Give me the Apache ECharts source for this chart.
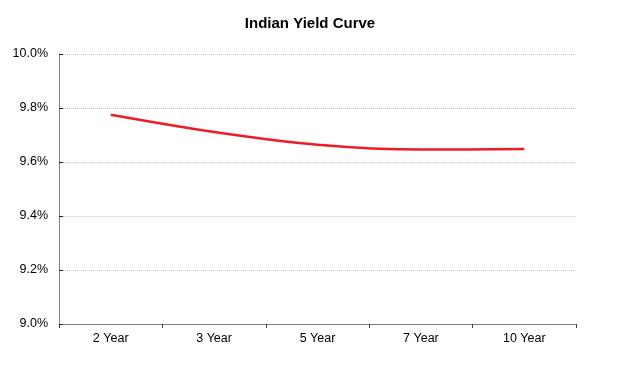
<!DOCTYPE html>
<html><head><meta charset="utf-8">
<script src="https://cdn.jsdelivr.net/npm/echarts@6/dist/echarts.min.js"></script>
<style>html,body{margin:0;padding:0;background:#fff}#c{width:628px;height:391px}</style>
</head><body><div id="c"></div>
<script>
const categories = ["2 Year", "3 Year", "5 Year", "7 Year", "10 Year"];
const yields = [9.775, 9.711, 9.664, 9.646, 9.648];
const yMin = 9.0, yMax = 10.0, yStep = 0.2;

const chart = echarts.init(document.getElementById('c'), null, {renderer: 'canvas'});
chart.setOption({
  animation: false,
  backgroundColor: '#ffffff',
  title: {
    text: 'Indian Yield Curve',
    left: 305, top: 11, textAlign: 'center',
    textStyle: {fontFamily: 'Liberation Sans', fontSize: 15, fontWeight: 'bold', color: '#000'}
  },
  grid: {left: 59, right: 52, top: 54, bottom: 67, containLabel: false},
  xAxis: {
    type: 'category', data: categories, boundaryGap: true,
    axisLine: {lineStyle: {color: '#808080', width: 1}},
    axisTick: {show: true, alignWithLabel: false, length: 4, lineStyle: {color: '#404040'}},
    axisLabel: {fontFamily: 'Liberation Sans', fontSize: 12.5, color: '#000', margin: 8}
  },
  yAxis: {
    type: 'value', min: yMin, max: yMax, interval: yStep,
    axisLine: {show: true, lineStyle: {color: '#808080', width: 1}},
    axisTick: {show: true, inside: true, length: 4, lineStyle: {color: '#202020'}},
    splitLine: {lineStyle: {color: '#c8c8c8', type: [1, 1], width: 1}},
    axisLabel: {fontFamily: 'Liberation Sans', fontSize: 12.5, color: '#000', margin: 11,
      formatter: v => v.toFixed(1) + '%'}
  },
  series: [{
    type: 'line', data: yields, smooth: 0.3, symbol: 'none',
    lineStyle: {color: '#ee1c25', width: 2.5}
  }]
});
</script></body></html>
